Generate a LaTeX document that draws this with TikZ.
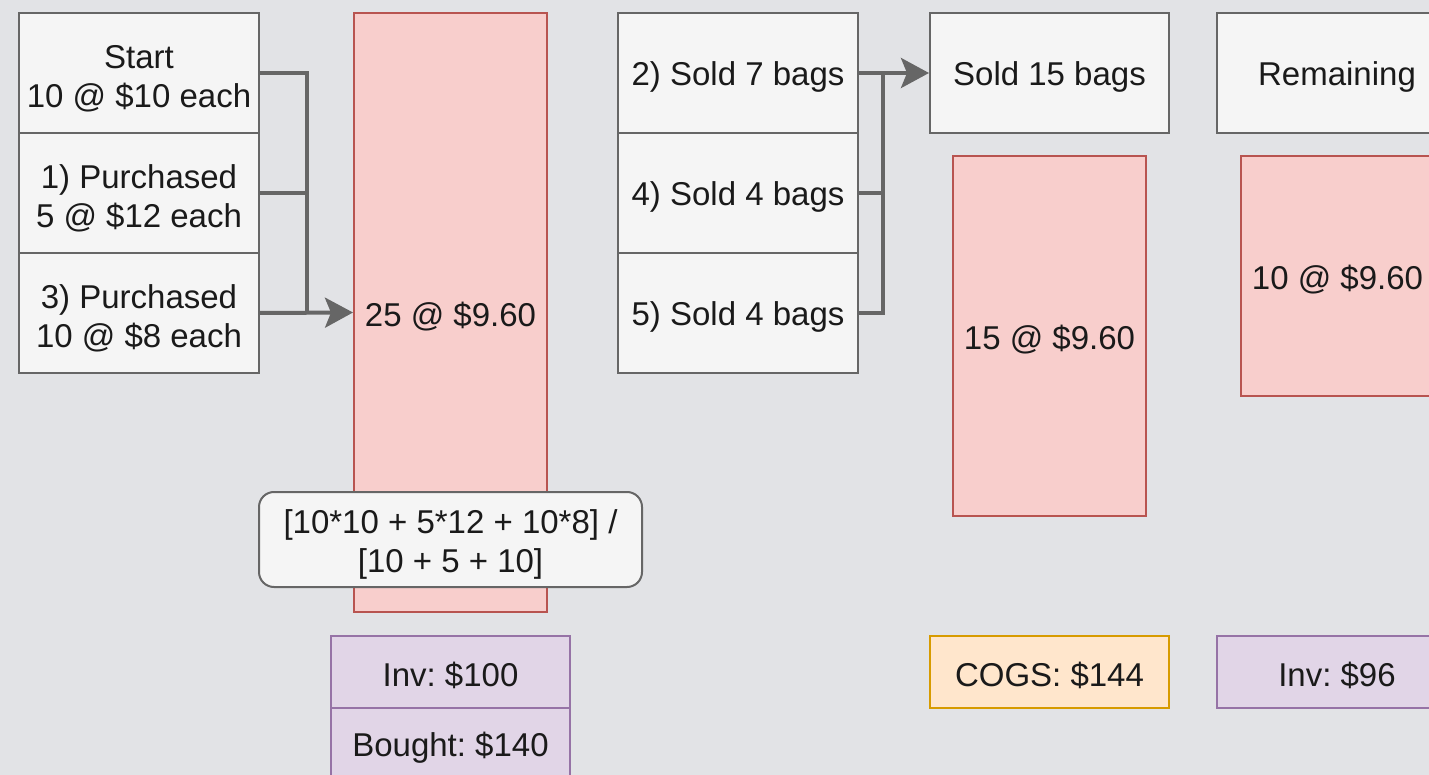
\documentclass[tikz,border=0pt]{standalone}
\usepackage{fontspec}
\setmainfont{Liberation Sans}
\usepackage{xcolor}
\usetikzlibrary{arrows.meta}
\usetikzlibrary{calc}
\usetikzlibrary{positioning}
\frenchspacing

\definecolor{bgGray}{HTML}{E2E3E6}
\definecolor{cellFill}{HTML}{F5F5F5}
\definecolor{cellLine}{HTML}{666666}
\definecolor{redFill}{HTML}{F8CECC}
\definecolor{redLine}{HTML}{B85450}
\definecolor{purpleFill}{HTML}{E1D5E7}
\definecolor{purpleLine}{HTML}{9673A6}
\definecolor{orangeFill}{HTML}{FFE6CC}
\definecolor{orangeLine}{HTML}{D79B00}
\definecolor{inkGray}{HTML}{1A1A1A}

% taller first line, so that the text sits a little lower
\newcommand\lift{\rule{0pt}{34pt}}

\tikzset{
  box/.style={line width=2pt, inner sep=0pt, align=center, text=inkGray,
    font=\fontsize{33}{39}\selectfont,
    execute at begin node={\rule{0pt}{32pt}}},
  cell/.style={box, draw=cellLine, fill=cellFill, minimum width=240pt, minimum height=120pt},
  lot/.style={box, draw=redLine, fill=redFill, minimum width=193pt},
  tally/.style={box, draw=purpleLine, fill=purpleFill, minimum width=240pt, minimum height=72pt},
  link/.style={draw=cellLine, line width=4pt},
  linkarrow/.style={link, -{Stealth[length=28pt, width=30pt, inset=6pt]}}
}

\begin{document}
\begin{tikzpicture}[x=1pt, y=-1pt]
  % Fix the page and the background
  \clip (0,0) rectangle (1429,775);
  \fill[bgGray] (0,0) rectangle (1429,775);

  % Purchases
  \node[cell] (Start) at (139,73) {\lift Start\\10 @ \$10 each};
  \node[cell] (P1) at (139,193) {\lift 1) Purchased\\5 @ \$12 each};
  \node[cell] (P3) at (139,313) {\lift 3) Purchased\\10 @ \$8 each};

  % Average cost lot
  \node[lot, minimum height=599pt] (Avg) at (450.5,312.5) {25 @ \$9.60};

  % Sales
  \node[cell] (S2) at (738,73) {2) Sold 7 bags};
  \node[cell] (S4) at (738,193) {4) Sold 4 bags};
  \node[cell] (S5) at (738,313) {5) Sold 4 bags};

  % Totals
  \node[cell, minimum width=239pt] (Sold) at (1049.5,73) {Sold 15 bags};
  \node[lot, minimum height=360pt] (SoldLot) at (1049.5,336) {15 @ \$9.60};
  \node[cell] (Rem) at (1337,73) {Remaining};
  \node[lot, minimum height=240pt] (RemLot) at (1337.5,276) {10 @ \$9.60};

  % Connectors
  \coordinate (J1) at ($(P3.east)!0.5!(Avg.west)$);
  \draw[link] (Start.east) -| (J1);
  \draw[link] (P1.east) -| (J1);
  \draw[linkarrow] (P3.east) -- (Avg.west);

  \coordinate (J2) at ([xshift=24pt]S2.east);
  \draw[link] (S4.east) -| (J2);
  \draw[link] (S5.east) -| (J2);
  \draw[linkarrow] (S2.east) -- (Sold.west);

  % Weighted average formula
  \node[box, draw=cellLine, fill=cellFill, rounded corners=15pt,
    minimum width=383pt, minimum height=95pt] (Formula) at (450.5,539.5)
    {\lift[10*10 + 5*12 + 10*8] /\\\relax[10 + 5 + 10]};

  % Values
  \node[tally, minimum width=239pt] (InvA) at (450.5,672) {Inv: \$100};
  \node[tally, minimum width=239pt] (Bought) at (450.5,744) {Bought: \$140};
  \node[box, draw=orangeLine, fill=orangeFill, minimum width=239pt,
    minimum height=72pt] (Cogs) at (1049.5,672) {COGS: \$144};
  \node[tally] (InvB) at (1337,672) {Inv: \$96};
\end{tikzpicture}
\end{document}
